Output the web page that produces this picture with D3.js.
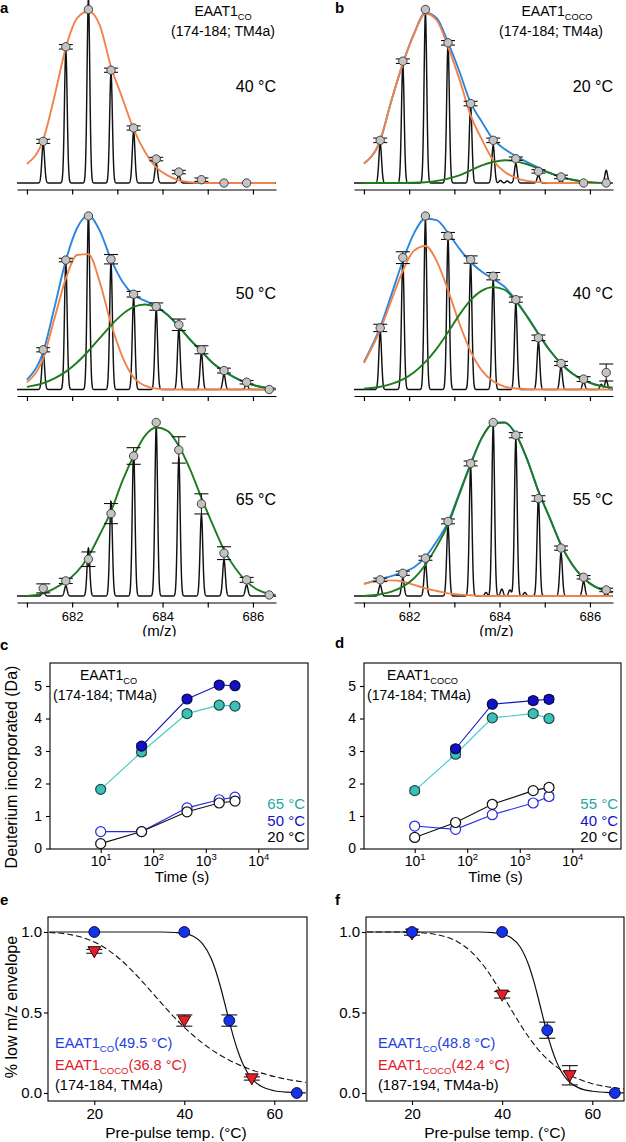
<!DOCTYPE html>
<html><head><meta charset="utf-8">
<script src="https://cdn.jsdelivr.net/npm/d3@7"></script>
<style>body{margin:0;background:#fff;}</style>
</head><body>
<script>
// ---------------- DATA ----------------
const mzTicks = [681, 682, 683, 684, 685, 686];
const mzLabeled = [682, 684, 686];
const peakMz = [681.36, 681.86, 682.36, 682.86, 683.36, 683.86, 684.36, 684.86, 685.36, 685.86, 686.36];
const mzGrid = [681.0, 681.36, 681.61, 681.86, 682.11, 682.36, 682.61, 682.86, 683.11, 683.36, 683.61, 683.86,
  684.11, 684.36, 684.61, 684.86, 685.11, 685.36, 685.61, 685.86, 686.11, 686.36, 686.5];

// Panel a, 40 °C
const peaksA40 = [22.7, 76.5, 106, 63.5, 29.4, 11.2, 4.4, 0.6, 0, 0, 0];
const circA40 = [24, 78.5, 100, 65, 31.7, 13.8, 6.3, 1.9, 0, 0];
const errA40 = [1.2, 1.3, 0, 1.2, 1.2, 1, 1, 1, 0, 0];
const orangeA40 = [11, 25, 50, 78, 95, 99, 91, 67, 49, 31, 18, 9, 4.4, 1.5, 0.5, 0, 0, 0, 0, 0, 0, 0, 0];
// Panel a, 50 °C
const peaksA50 = [21, 72.7, 100, 72.7, 52.6, 45.9, 34.4, 21, 8.6, 3.3, 0];
const circA50 = [22.9, 74.6, 100, 75.1, 54.9, 47.8, 37.3, 22.9, 10.9, 4.2, 0];
const errA50 = [1.2, 1, 0, 2.7, 1.6, 2.1, 3.3, 2.3, 1.4, 1, 0];
const orangeA50 = [4.2, 18, 41, 64, 77.5, 78, 62, 38, 19, 7, 2.2, 0.5, 0.1, 0, 0, 0, 0, 0, 0, 0, 0, 0, 0];
const greenA50 = [1.5, 3.7, 6.4, 10.3, 15.6, 22.2, 29.6, 37, 43.3, 47.6, 49, 47.4, 43, 36.3, 28.7, 22, 15.3, 10.5, 6.7, 3.8, 1.9, 0.8, 0.4];
// Panel a, 65 °C
const peaksA65 = [2.9, 5.8, 27.6, 54.6, 83.6, 97, 79.7, 46.9, 20.8, 6.4, 0.6];
const circA65 = [4.4, 8.7, 21.2, 47.5, 80.7, 100, 84.2, 53.1, 24.7, 9.3, 0.6];
const errA65 = [2.6, 1.5, 4.2, 5.8, 4.8, 0, 7.6, 5.8, 3.7, 1.4, 0];
const greenA65 = [0, 1.5, 4.4, 8.3, 14, 22.8, 35.3, 48.8, 66.2, 80.7, 92.3, 97.1, 95.2, 86.5, 73, 56.6, 41.1, 26.6, 16, 8.3, 3.5, 1.2, 0.6];
// Panel b, 20 °C
const peaksB20 = [22.7, 67.9, 97.7, 79.4, 44.2, 21.7, 11.2, 4.4, 1.5, 0, 7.3];
const minorB20 = [[684.02, 1.5], [684.17, 1.2]];
const circB20 = [24.6, 70.2, 100, 80.8, 45.8, 24.6, 14, 6.7, 3.5, 0, 0];
const errB20 = [1.3, 1.3, 0, 1.3, 1.3, 1.3, 1, 1, 1, 0, 0];
const orangeB20 = [11.2, 24.6, 47.7, 68.8, 86, 97.7, 93.8, 78.5, 60, 39, 25, 13, 6.5, 3, 1.2, 0.5, 0, 0, 0, 0, 0, 0, 0];
const greenB20 = [0, 0, 0, 0, 0.2, 0.4, 1.2, 2.5, 4.4, 7.3, 10.2, 12.1, 13.1, 12.5, 10.8, 8.3, 5.8, 3.5, 1.9, 0.8, 0.2, 0, 0];
// Panel b, 40 °C
const peaksB40 = [33.2, 73.5, 97.5, 86.4, 72.6, 63, 49.5, 27.4, 13, 4.4, 5.4];
const minorB40 = [[686.25, 3]];
const circB40 = [35.5, 76, 100, 88.5, 74.9, 65.3, 51.8, 29.8, 15, 6, 9.8];
const errB40 = [2.1, 3.4, 0, 2, 2.1, 2.1, 1.5, 1.6, 1.2, 1.4, 4.9];
const orangeB40 = [15.3, 34.3, 51.6, 68.4, 80.1, 82.7, 74, 57.3, 38.2, 22, 10.9, 4.7, 1.7, 0.6, 0.2, 0, 0, 0, 0, 0, 0, 0, 0];
const greenB40 = [0.5, 1.6, 3.2, 5.8, 10, 15.9, 23.6, 33, 43, 51.5, 57, 59, 57.5, 51, 42, 32, 22.6, 15, 9.2, 5.4, 2.9, 1.5, 1];
// Panel b, 55 °C
const peaksB55 = [6.4, 10.2, 19, 40.2, 74, 98, 90.3, 56.6, 24.7, 8.3, 1.5];
const minorB55 = [[683.7, 2], [684.05, 4], [684.23, 3.5], [684.56, 2]];
const circB55 = [9.3, 13.1, 21.8, 43, 76.4, 100, 92.7, 56.2, 27.6, 10.8, 3.5];
const errB55 = [1, 1.2, 1.2, 1.4, 1.4, 0, 1.5, 1.6, 1.2, 1, 1];
const orangeB55 = [7, 8.7, 9, 8.3, 6.4, 4.4, 2.9, 1.5, 0.8, 0.4, 0, 0, 0, 0, 0, 0, 0, 0, 0, 0, 0, 0, 0];
const greenB55 = [0, 1, 2.5, 5.4, 10.2, 18, 28.6, 41.1, 58.5, 75.9, 91.3, 99.4, 100, 93.2, 78.8, 60.4, 45, 29.5, 18, 10.2, 5.4, 2.9, 2.1];

// Panels c, d : deuterium uptake
const timeTicks = [10, 100, 1000, 10000];
const uptakeTicks = [0, 1, 2, 3, 4, 5];
const timesC = [10, 60, 440, 1800, 3600];
const timesCHi = [60, 440, 1800, 3600];
const c65 = [1.82, 2.97, 4.15, 4.41, 4.38];
const c65err = [0.05, 0.1, 0.08, 0.06, 0.07];
const c50hi = [3.15, 4.6, 5.03, 5.01];
const c50hiErr = [0.08, 0.06, 0.05, 0.05];
const c50lo = [0.52, 0.52, 1.25, 1.5, 1.58];
const c50loErr = [0.03, 0.03, 0.05, 0.05, 0.05];
const c20 = [0.15, 0.52, 1.13, 1.4, 1.46];
const c20err = [0.04, 0.03, 0.05, 0.05, 0.05];
const timesD = [10, 60, 300, 1800, 3600];
const timesDHi = [60, 300, 1800, 3600];
const d55 = [1.78, 2.9, 4.02, 4.15, 4.0];
const d55err = [0.08, 0.1, 0.06, 0.08, 0.05];
const d40hi = [3.07, 4.44, 4.55, 4.59];
const d40hiErr = [0.08, 0.06, 0.1, 0.1];
const d40lo = [0.69, 0.59, 1.04, 1.4, 1.6];
const d40loErr = [0.04, 0.04, 0.05, 0.08, 0.1];
const d20 = [0.34, 0.8, 1.36, 1.78, 1.88];
const d20err = [0.06, 0.05, 0.05, 0.05, 0.09];

// Panels e, f : melting
const tempTicks = [20, 40, 60];
const fracTicks = [0, 0.5, 1.0];
const tempsCO = [20, 40, 50, 65];
const tempsCOCO = [20, 40, 55];
const eCO = [1.0, 1.0, 0.45, 0.0];
const eCOerr = [0, 0, 0.035, 0];
const eCOCO = [0.88, 0.45, 0.09];
const eCOCOerr = [0.012, 0.035, 0.01];
const fCO = [1.0, 1.0, 0.39, 0.0];
const fCOerr = [0, 0, 0.05, 0];
const fCOCO = [0.99, 0.61, 0.11];
const fCOCOerr = [0.01, 0.02, 0.06];
const fitT = [10, 15, 20, 25, 30, 33, 35, 38, 40, 42, 44, 46, 47, 48, 49, 50, 51, 52, 53, 54, 55, 57, 60, 63, 67];
const eFitCO = [1, 1, 1, 1, 1, 1, 1, 0.997, 0.991, 0.974, 0.930, 0.834, 0.758, 0.663, 0.556, 0.445, 0.341, 0.253, 0.182, 0.129, 0.089, 0.043, 0.014, 0.005, 0.001];
const eFitCOCO = [0.997, 0.982, 0.938, 0.848, 0.713, 0.619, 0.555, 0.464, 0.408, 0.357, 0.311, 0.27, 0.252, 0.235, 0.219, 0.204, 0.19, 0.177, 0.165, 0.154, 0.143, 0.125, 0.102, 0.084, 0.066];
const fFitCO = [1, 1, 1, 1, 1, 1, 1, 0.996, 0.988, 0.964, 0.907, 0.786, 0.696, 0.590, 0.478, 0.369, 0.275, 0.198, 0.140, 0.097, 0.067, 0.032, 0.011, 0.004, 0.001];
const fFitCOCO = [1, 1, 0.998, 0.986, 0.941, 0.881, 0.822, 0.706, 0.614, 0.519, 0.427, 0.343, 0.305, 0.27, 0.239, 0.211, 0.186, 0.164, 0.144, 0.126, 0.111, 0.086, 0.058, 0.040, 0.025];

// ---------------- DRAWING ----------------
const FONT = "'Liberation Sans', Arial, Helvetica, sans-serif";
const svg = d3.select("body").append("svg").attr("width", 626).attr("height", 1142)
  .style("font-family", FONT).style("display", "block");
svg.append("rect").attr("width", 626).attr("height", 1142).attr("fill", "#fff");

const C = {
  orange: "#F0834A", blue: "#2B86DE", green: "#1E7B1E",
  teal: "#3CC0B6", tealLine: "#40CACA", tealText: "#24A8A0",
  navy: "#1212C4", openBlue: "#2A2AE0",
  eBlue: "#1432E6", eRed: "#E2202A", txtBlue: "#2340E0", txtRed: "#E2202A"
};

function rich(parent, x, y, parts, o = {}) {
  const size = o.size || 14;
  const t = parent.append("text").attr("x", x).attr("y", y)
    .attr("font-size", size).attr("text-anchor", o.anchor || "start")
    .attr("fill", o.color || "#000");
  if (o.weight) t.attr("font-weight", o.weight);
  if (o.rotate) t.attr("transform", `rotate(${o.rotate},${x},${y})`);
  let cur = 0;
  parts.forEach(p => {
    const [s, kind] = Array.isArray(p) ? p : [p, ""];
    const off = kind === "sub" ? size * 0.3 : kind === "sup" ? -size * 0.42 : 0;
    const sp = t.append("tspan").text(s);
    if (off - cur !== 0) sp.attr("dy", off - cur);
    if (kind) sp.attr("font-size", size * 0.66);
    cur = off;
  });
  return t;
}

// ---------- Mass spectra ----------
const mzDomain = [680.78, 686.51];
function msPanel(o) {
  const g = svg.append("g");
  const x = d3.scaleLinear().domain(mzDomain).range([o.x0, o.x0 + 259]);
  const y = d3.scaleLinear().domain([0, 100]).range([o.axisY - 6.5, o.axisY - 180]);
  const ax = g.append("g").attr("transform", `translate(0,${o.axisY})`)
    .call(d3.axisBottom(x).tickValues(mzTicks).tickSizeInner(5).tickSizeOuter(0).tickPadding(4)
      .tickFormat(d => (o.labels && mzLabeled.includes(d)) ? d : ""));
  ax.attr("font-family", FONT).attr("font-size", 13);
  ax.select(".domain").attr("stroke", "#000").attr("stroke-width", 1.2);
  ax.selectAll(".tick line").attr("stroke", "#000").attr("stroke-width", 1.2);
  ax.selectAll(".tick text").attr("fill", "#000");

  // raw spectrum
  const all = peakMz.map((m, i) => [m, o.peaks[i]]).concat(o.minor || []);
  const s = 0.03;
  const fine = d3.range(mzDomain[0], mzDomain[1], 0.003);
  const tr = fine.map(m => [m, d3.sum(all, p => p[1] * Math.exp(-((m - p[0]) ** 2) / (2 * s * s)))]);
  g.append("path").attr("d", d3.line().x(d => x(d[0])).y(d => y(d[1]))(tr))
    .attr("fill", "none").attr("stroke", "#111").attr("stroke-width", 1.45);

  const line = d3.line().x(d => x(d[0])).y(d => y(d[1])).curve(d3.curveMonotoneX);
  const draw = (vals, col) => g.append("path").attr("d", line(mzGrid.map((m, i) => [m, vals[i]])))
    .attr("fill", "none").attr("stroke", col).attr("stroke-width", 1.9);
  if (o.orange && o.green) draw(mzGrid.map((m, i) => o.orange[i] + o.green[i]), C.blue);
  if (o.orange) draw(o.orange, C.orange);
  if (o.green) draw(o.green, C.green);

  // centroid circles with error bars
  o.circ.forEach((v, i) => {
    const e = o.err[i]; if (!e) return;
    const cx = x(peakMz[i]), y1 = y(v + e), y2 = y(v - e);
    g.append("line").attr("x1", cx).attr("x2", cx).attr("y1", y1).attr("y2", y2).attr("stroke", "#111").attr("stroke-width", 1);
    [y1, y2].forEach(yy => g.append("line").attr("x1", cx - 7).attr("x2", cx + 7).attr("y1", yy).attr("y2", yy).attr("stroke", "#111").attr("stroke-width", 1.1));
  });
  g.selectAll("circle.c").data(o.circ).join("circle")
    .attr("cx", (d, i) => x(peakMz[i])).attr("cy", d => y(d)).attr("r", 4.2)
    .attr("fill", "#C3C3C3").attr("stroke", "#333").attr("stroke-width", 0.9);

  rich(g, o.x0 + 259, o.axisY - 97.5, [o.temp + "\u00a0°C"], { size: 16, anchor: "end" });
  if (o.labels) {
    const id = "clip" + o.x0;
    svg.append("clipPath").attr("id", id).append("rect").attr("x", 0).attr("y", 0).attr("width", 626).attr("height", 636.5);
    rich(g, x(683.93), 636, ["(m/z)"], { size: 15, anchor: "middle" }).attr("clip-path", `url(#${id})`);
  }
}

const rowY = [189.5, 396, 602.5];
msPanel({ x0: 17, axisY: rowY[0], peaks: peaksA40, circ: circA40, err: errA40, orange: orangeA40, temp: "40" });
msPanel({ x0: 17, axisY: rowY[1], peaks: peaksA50, circ: circA50, err: errA50, orange: orangeA50, green: greenA50, temp: "50" });
msPanel({ x0: 17, axisY: rowY[2], peaks: peaksA65, circ: circA65, err: errA65, green: greenA65, temp: "65", labels: true });
msPanel({ x0: 354, axisY: rowY[0], peaks: peaksB20, minor: minorB20, circ: circB20, err: errB20, orange: orangeB20, green: greenB20, temp: "20" });
msPanel({ x0: 354, axisY: rowY[1], peaks: peaksB40, minor: minorB40, circ: circB40, err: errB40, orange: orangeB40, green: greenB40, temp: "40" });
msPanel({ x0: 354, axisY: rowY[2], peaks: peaksB55, minor: minorB55, circ: circB55, err: errB55, orange: orangeB55, green: greenB55, temp: "55", labels: true });

// titles
rich(svg, 223, 16, ["EAAT1", ["CO", "sub"]], { size: 14, anchor: "middle" });
rich(svg, 223, 36, ["(174-184; TM4a)"], { size: 14, anchor: "middle" });
rich(svg, 557, 16, ["EAAT1", ["COCO", "sub"]], { size: 14, anchor: "middle" });
rich(svg, 551, 36, ["(174-184; TM4a)"], { size: 14, anchor: "middle" });

// panel letters
[["a", 0, 13], ["b", 335, 13], ["c", 0, 650], ["d", 335, 648], ["e", 0, 905], ["f", 335, 905]]
  .forEach(([t, x, y]) => rich(svg, x, y, [t], { size: 15, weight: "bold" }));

// ---------- Uptake panels ----------
function hdxPanel(o) {
  const g = svg.append("g");
  const x = d3.scaleLog().domain([10, 10000]).range(o.xr);
  const y = d3.scaleLinear().domain([0, 5]).range([848.5, 686]);
  const fy0 = 663, fy1 = 849;
  g.append("rect").attr("x", o.fx0).attr("y", fy0).attr("width", o.fx1 - o.fx0).attr("height", fy1 - fy0)
    .attr("fill", "none").attr("stroke", "#000").attr("stroke-width", 1.1);
  const ya = g.append("g").attr("transform", `translate(${o.fx0},0)`)
    .call(d3.axisLeft(y).tickValues(uptakeTicks).tickSize(4).tickPadding(4).tickFormat(d3.format("d")));
  const xa = g.append("g").attr("transform", `translate(0,${fy1})`)
    .call(d3.axisBottom(x).tickValues(timeTicks).tickSize(4).tickPadding(3).tickFormat(""));
  [ya, xa].forEach(a => {
    a.attr("font-family", FONT).attr("font-size", 14);
    a.select(".domain").remove();
    a.selectAll(".tick line").attr("stroke", "#000").attr("stroke-width", 1.1);
    a.selectAll(".tick text").attr("fill", "#000");
  });
  xa.selectAll(".tick text").each(function (d) {
    const t = d3.select(this);
    t.append("tspan").text("10");
    t.append("tspan").attr("dy", -6).attr("font-size", 9.5).text(Math.round(Math.log10(d)));
  });

  const line = d3.line().x(d => x(d[0])).y(d => y(d[1]));
  o.series.forEach(s => {
    const pts = s.t.map((t, i) => [t, s.v[i], s.e[i]]);
    g.append("path").attr("d", line(pts)).attr("fill", "none").attr("stroke", s.line).attr("stroke-width", 1.1);
  });
  o.series.forEach(s => {
    const pts = s.t.map((t, i) => [t, s.v[i], s.e[i]]);
    pts.forEach(p => {
      const cx = x(p[0]), y1 = y(p[1] + p[2]), y2 = y(p[1] - p[2]);
      g.append("line").attr("x1", cx).attr("x2", cx).attr("y1", y1).attr("y2", y2).attr("stroke", "#111");
      [y1, y2].forEach(yy => g.append("line").attr("x1", cx - 5).attr("x2", cx + 5).attr("y1", yy).attr("y2", yy).attr("stroke", "#111"));
    });
    g.selectAll(null).data(pts).join("circle").attr("cx", p => x(p[0])).attr("cy", p => y(p[1])).attr("r", 5)
      .attr("fill", s.fill).attr("stroke", s.stroke).attr("stroke-width", 1.2);
  });

  rich(g, o.titleX, 680, ["EAAT1", [o.sub, "sub"]], { size: 14 });
  rich(g, o.title2X, 700, ["(174-184; TM4a)"], { size: 14 });
  o.legend.forEach((l, i) => rich(g, o.fx1 - 3, 809 + i * 16.5, [l[0] + "\u00a0°C"], { size: 15, anchor: "end", color: l[1] }));
  rich(g, (o.fx0 + o.fx1) / 2 + 3, 882, ["Time (s)"], { size: 15, anchor: "middle" });
}

hdxPanel({
  xr: [100.7, 258.3], fx0: 50, fx1: 308, titleX: 80, title2X: 53, sub: "CO",
  series: [
    { t: timesC, v: c65, e: c65err, line: C.tealLine, fill: C.teal, stroke: "#1c4a48" },
    { t: timesCHi, v: c50hi, e: c50hiErr, line: C.navy, fill: C.navy, stroke: "#06064a" },
    { t: timesC, v: c50lo, e: c50loErr, line: C.openBlue, fill: "#fff", stroke: C.openBlue },
    { t: timesC, v: c20, e: c20err, line: "#111", fill: "#fff", stroke: "#111" }
  ],
  legend: [["65", C.tealText], ["50", C.navy], ["20", "#000"]]
});
hdxPanel({
  xr: [414.7, 572.3], fx0: 364, fx1: 621, titleX: 387, title2X: 367, sub: "COCO",
  series: [
    { t: timesD, v: d55, e: d55err, line: C.tealLine, fill: C.teal, stroke: "#1c4a48" },
    { t: timesDHi, v: d40hi, e: d40hiErr, line: C.navy, fill: C.navy, stroke: "#06064a" },
    { t: timesD, v: d40lo, e: d40loErr, line: C.openBlue, fill: "#fff", stroke: C.openBlue },
    { t: timesD, v: d20, e: d20err, line: "#111", fill: "#fff", stroke: "#111" }
  ],
  legend: [["55", C.tealText], ["40", C.navy], ["20", "#000"]]
});
rich(svg, 17, 767, ["Deuterium incorporated (Da)"], { size: 16, anchor: "middle", rotate: -90 });

// ---------- Melting panels ----------
function meltPanel(o) {
  const g = svg.append("g");
  const x = d3.scaleLinear().domain([20, 60]).range(o.xr);
  const y = d3.scaleLinear().domain([0, 1]).range([1093, 932]);
  const fy0 = 917, fy1 = 1101;
  const id = "mclip" + o.fx0;
  svg.append("clipPath").attr("id", id).append("rect").attr("x", o.fx0).attr("y", fy0).attr("width", o.fx1 - o.fx0).attr("height", fy1 - fy0);
  g.append("rect").attr("x", o.fx0).attr("y", fy0).attr("width", o.fx1 - o.fx0).attr("height", fy1 - fy0)
    .attr("fill", "none").attr("stroke", "#000").attr("stroke-width", 1.1);
  const ya = g.append("g").attr("transform", `translate(${o.fx0},0)`)
    .call(d3.axisLeft(y).tickValues(fracTicks).tickSize(4).tickPadding(2).tickFormat(d3.format(".1f")));
  const xa = g.append("g").attr("transform", `translate(0,${fy1})`)
    .call(d3.axisBottom(x).tickValues(tempTicks).tickSize(4).tickPadding(3.5).tickFormat(d3.format("d")));
  [ya, xa].forEach(a => {
    a.attr("font-family", FONT).attr("font-size", 15);
    a.select(".domain").remove();
    a.selectAll(".tick line").attr("stroke", "#000").attr("stroke-width", 1.1);
    a.selectAll(".tick text").attr("fill", "#000");
  });
  const line = d3.line().x(d => x(d[0])).y(d => y(d[1])).curve(d3.curveMonotoneX);
  const cg = g.append("g").attr("clip-path", `url(#${id})`);
  cg.append("path").attr("d", line(fitT.map((t, i) => [t, o.fitCOCO[i]]))).attr("fill", "none")
    .attr("stroke", "#111").attr("stroke-width", 1.1).attr("stroke-dasharray", "6,3");
  cg.append("path").attr("d", line(fitT.map((t, i) => [t, o.fitCO[i]]))).attr("fill", "none")
    .attr("stroke", "#111").attr("stroke-width", 1.2);

  const bars = (ts, vs, es) => ts.forEach((t, i) => {
    if (!es[i]) return;
    const cx = x(t), y1 = y(vs[i] + es[i]), y2 = y(vs[i] - es[i]);
    g.append("line").attr("x1", cx).attr("x2", cx).attr("y1", y1).attr("y2", y2).attr("stroke", "#111");
    [y1, y2].forEach(yy => g.append("line").attr("x1", cx - 8).attr("x2", cx + 8).attr("y1", yy).attr("y2", yy).attr("stroke", "#111").attr("stroke-width", 1.1));
  });
  bars(tempsCOCO, o.coco, o.cocoErr);
  bars(tempsCO, o.co, o.coErr);
  g.selectAll(null).data(tempsCOCO).join("path")
    .attr("d", d3.symbol(d3.symbolTriangle, 70))
    .attr("transform", (t, i) => `translate(${x(t)},${y(o.coco[i]) - 1}) rotate(180)`)
    .attr("fill", C.eRed).attr("stroke", "#3a0a0a").attr("stroke-width", 1);
  g.selectAll(null).data(tempsCO).join("circle")
    .attr("cx", t => x(t)).attr("cy", (t, i) => y(o.co[i])).attr("r", 5.4)
    .attr("fill", C.eBlue).attr("stroke", "#0a0a50").attr("stroke-width", 1);

  rich(g, o.legX, 1048, ["EAAT1", ["CO", "sub"], "(" + o.tmCO + "\u00a0°C)"], { size: 14.5, color: C.txtBlue });
  rich(g, o.legX, 1070, ["EAAT1", ["COCO", "sub"], "(" + o.tmCOCO + "\u00a0°C)"], { size: 14.5, color: C.txtRed });
  rich(g, o.legX, 1090, [o.pep], { size: 14.5 });
  rich(g, o.xlabX, 1137.5, ["Pre-pulse temp. (°C)"], { size: 15.5, anchor: "middle" });
}
meltPanel({ xr: [94.3, 274.3], fx0: 48, fx1: 307, co: eCO, coErr: eCOerr, coco: eCOCO, cocoErr: eCOCOerr,
  fitCO: eFitCO, fitCOCO: eFitCOCO, legX: 55, tmCO: "49.5", tmCOCO: "36.8", pep: "(174-184, TM4a)", xlabX: 176 });
meltPanel({ xr: [412, 592.3], fx0: 366, fx1: 624, co: fCO, coErr: fCOerr, coco: fCOCO, cocoErr: fCOCOerr,
  fitCO: fFitCO, fitCOCO: fFitCOCO, legX: 378, tmCO: "48.8", tmCOCO: "42.4", pep: "(187-194, TM4a-b)", xlabX: 495 });
rich(svg, 17, 1007, ["% low m/z envelope"], { size: 16, anchor: "middle", rotate: -90 });
</script>
</body></html>
